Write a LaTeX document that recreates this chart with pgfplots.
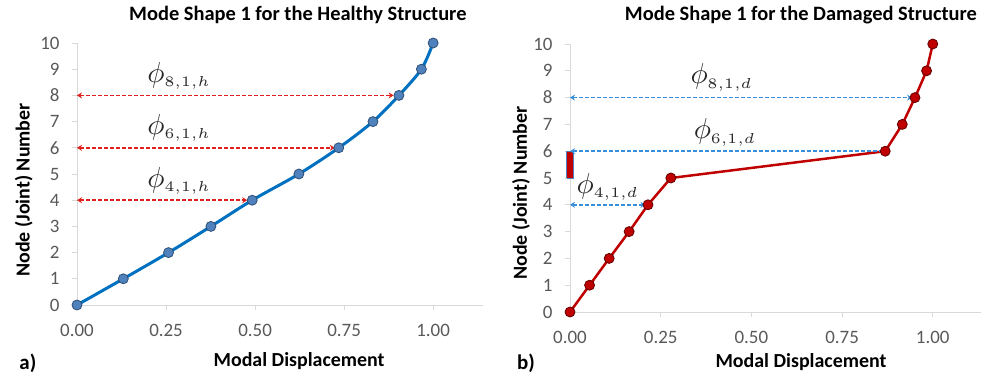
\documentclass[border=0pt]{standalone}
\usepackage{pgfplots}
\pgfplotsset{compat=1.18}
\usepackage{fontspec}
\setmainfont{Carlito}
\usetikzlibrary{arrows.meta}
\definecolor{axgray}{HTML}{D9D9D9}
\definecolor{tickgray}{HTML}{595959}
\definecolor{hblue}{HTML}{0070C0}
\definecolor{mblue}{HTML}{4F81BD}
\definecolor{mbord}{HTML}{2F4F75}
\definecolor{dred}{HTML}{C00000}
\definecolor{dbord}{HTML}{600000}
\definecolor{arrred}{HTML}{E0201C}
\definecolor{arrblue}{HTML}{3A8FDC}
\tikzset{phil/.style={font=\fontsize{10}{10}\selectfont, scale=2.9, transform shape, color=black!85, anchor=center},
  arrow red/.style={draw=arrred, line width=1.5bp, dash pattern=on 4bp off 2bp,
    {Stealth[length=5bp,width=6bp]}-{Stealth[length=5bp,width=6bp]}},
  arrow blue/.style={draw=arrblue, line width=1.5bp, dash pattern=on 4bp off 2bp,
    {Stealth[length=5bp,width=6bp]}-{Stealth[length=5bp,width=6bp]}}}
\newcommand{\ph}[3]{$\phi_{\scriptscriptstyle #1{,}#2{,}#3}$}
\pgfplotsset{
  mystyle/.style={
    scale only axis,
    axis lines=left,
    axis line style={draw=axgray, line width=0.9bp, -},
    tick style={draw=axgray, line width=0.9bp},
    tick align=outside,
    major tick length=5bp,
    xmin=0, xmax=1.14, ymin=0, ymax=10,
    xtick={0,0.25,0.5,0.75,1},
    ytick={0,1,...,10},
    xticklabel style={/pgf/number format/fixed, /pgf/number format/fixed zerofill, /pgf/number format/precision=2, yshift=-11bp},
    yticklabel style={xshift=-9bp},
    /pgf/number format/assume math mode=true,
    tick label style={font=\fontsize{19}{19}\selectfont, color=tickgray},
    label style={font=\fontsize{20}{20}\selectfont\bfseries, color=black},
    title style={font=\fontsize{20.5}{21}\selectfont\bfseries, color=black, anchor=center},
    clip=false,
  },
}
\begin{document}
\begin{tikzpicture}
\useasboundingbox (0,0) rectangle (986bp,376bp);
% ---------------- a) healthy
\begin{axis}[mystyle,
  at={(77bp,71bp)}, anchor=south west,
  width=406bp, height=262bp,
  title={Mode Shape 1 for the Healthy Structure},
  title style={at={(0.544,1.084)}},
  xlabel={Modal Displacement},
  xlabel style={at={(axis description cs:0.547,-0.214)}, anchor=center},
  ylabel={Node (Joint) Number},
  ylabel style={at={(axis description cs:-0.131,0.439)}, anchor=center},
]
\addplot[hblue, line width=3bp, smooth, mark=*, mark size=5bp,
  mark options={fill=mblue, draw=mbord, line width=0.8bp}]
  coordinates {(0,0) (0.130,1) (0.257,2) (0.376,3) (0.492,4) (0.623,5)
               (0.735,6) (0.831,7) (0.904,8) (0.967,9) (1.0,10)};
\addplot[arrow red] coordinates {(0,8) (0.889,8)};
\addplot[arrow red] coordinates {(0,6) (0.724,6)};
\addplot[arrow red] coordinates {(0,4) (0.478,4)};
\node[phil] at (axis cs:0.287,8.75) {\ph{8}{1}{h}};
\node[phil] at (axis cs:0.287,6.75) {\ph{6}{1}{h}};
\node[phil] at (axis cs:0.287,4.75) {\ph{4}{1}{h}};
\node[font=\fontsize{21}{21}\selectfont\bfseries, anchor=center] at (rel axis cs:-0.121,-0.221) {a)};
\end{axis}
% ---------------- b) damaged
\begin{axis}[mystyle,
  at={(570bp,64bp)}, anchor=south west,
  width=411bp, height=268bp,
  xmax=1.133,
  title={Mode Shape 1 for the Damaged Structure},
  title style={at={(0.562,1.086)}},
  xlabel={Modal Displacement},
  xlabel style={at={(axis description cs:0.562,-0.187)}, anchor=center},
  ylabel={Node (Joint) Number},
  ylabel style={at={(axis description cs:-0.119,0.444)}, anchor=center},
]
\addplot[fill=dred, draw=mblue, line width=0.6bp]
  coordinates {(-0.009,5) (0.009,5) (0.009,6) (-0.009,6) (-0.009,5)};
\addplot[dred, line width=2.5bp, mark=*, mark size=5bp,
  mark options={fill=dred, draw=dbord, line width=0.8bp}]
  coordinates {(0,0) (0.054,1) (0.108,2) (0.163,3) (0.215,4) (0.278,5)
               (0.869,6) (0.916,7) (0.951,8) (0.983,9) (1.0,10)};
\addplot[arrow blue] coordinates {(0,8) (0.943,8)};
\addplot[arrow blue] coordinates {(0,6) (0.876,6)};
\addplot[arrow blue] coordinates {(0,4) (0.208,4)};
\node[phil] at (axis cs:0.418,8.75) {\ph{8}{1}{d}};
\node[phil] at (axis cs:0.427,6.7) {\ph{6}{1}{d}};
\node[phil] at (axis cs:0.104,4.67) {\ph{4}{1}{d}};
\node[font=\fontsize{21}{21}\selectfont\bfseries, anchor=center] at (rel axis cs:-0.107,-0.19) {b)};
\end{axis}
\end{tikzpicture}
\end{document}
